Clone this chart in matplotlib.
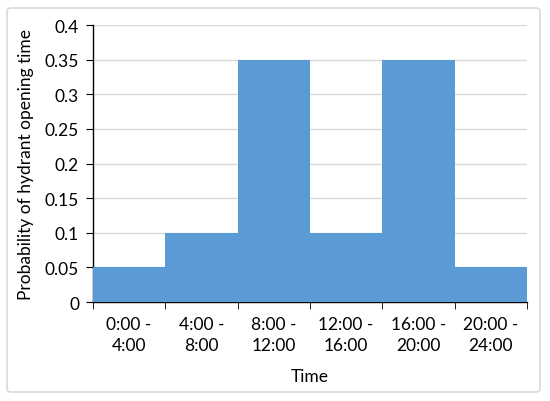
import matplotlib.pyplot as plt
from matplotlib.patches import FancyBboxPatch
import numpy as np

categories = ['0:00 -\n4:00', '4:00 -\n8:00', '8:00 -\n12:00',
              '12:00 -\n16:00', '16:00 -\n20:00', '20:00 -\n24:00']
probability = [0.05, 0.1, 0.35, 0.1, 0.35, 0.05]
y_ticks = [0, 0.05, 0.1, 0.15, 0.2, 0.25, 0.3, 0.35, 0.4]
y_tick_labels = ['0', '0.05', '0.1', '0.15', '0.2', '0.25', '0.3', '0.35', '0.4']

plt.rcParams['font.family'] = ['Lato', 'DejaVu Sans']

fig = plt.figure(figsize=(5.5, 4.02), dpi=100)
ax = fig.add_axes([0.169, 0.246, 0.789, 0.689])

# outer chart border
border = FancyBboxPatch((7 / 550, 9 / 402), 533 / 550, 384 / 402,
                        boxstyle='round,pad=0,rounding_size=0.008',
                        transform=fig.transFigure, facecolor='none',
                        edgecolor='#d9d9d9', linewidth=1.2)
fig.patches.append(border)

x = np.arange(len(categories))
ax.bar(x, probability, width=1.0, color='#5b9bd5', zorder=3)

ax.set_xlim(-0.5, len(categories) - 0.5)
ax.set_ylim(0, 0.4)
ax.set_yticks(y_ticks)
ax.set_yticklabels(y_tick_labels, fontsize=12.5)
ax.set_xticks(x)
ax.set_xticklabels(categories, fontsize=12.5, linespacing=1.4)
ax.set_xticks(np.arange(-0.5, len(categories)), minor=True)
ax.tick_params(axis='x', which='major', length=0, pad=10)
ax.tick_params(axis='x', which='minor', length=5, direction='out', color='black')
ax.tick_params(axis='y', length=5, direction='out', color='black', pad=5)

ax.grid(axis='y', color='#d9d9d9', linewidth=1, zorder=0)
ax.spines['top'].set_visible(False)
ax.spines['right'].set_visible(False)
ax.spines['left'].set_linewidth(1)
ax.spines['bottom'].set_linewidth(1)

ax.set_ylabel('Probability of hydrant opening time', fontsize=12.5, labelpad=8)
ax.set_xlabel('Time', fontsize=12.5, labelpad=11)

fig.savefig('out.png', dpi=100)
